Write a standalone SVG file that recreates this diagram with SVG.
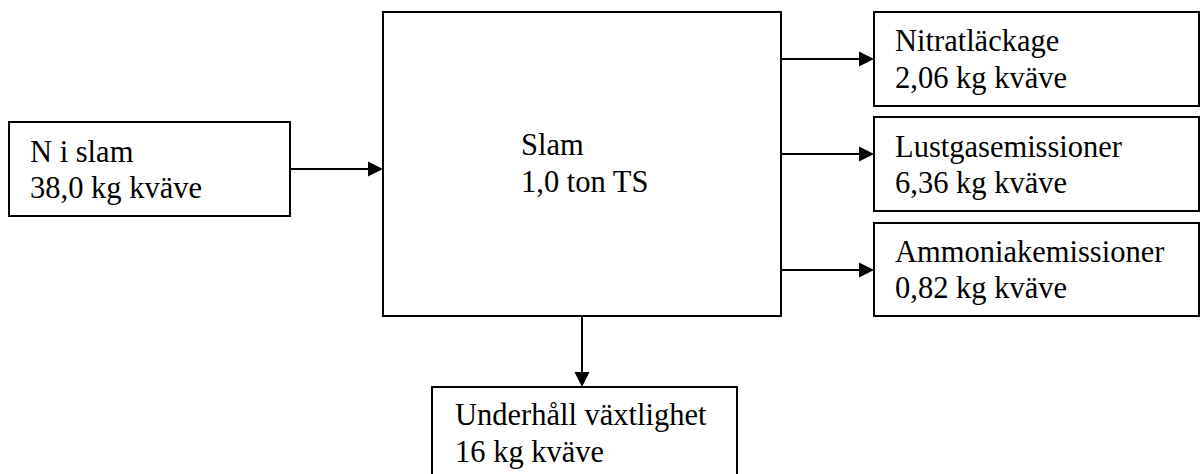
<svg xmlns="http://www.w3.org/2000/svg" width="1201" height="474" viewBox="0 0 1201 474">
<style>
.box{fill:#fff;stroke:#000;stroke-width:2}
.ln{stroke:#000;stroke-width:2;fill:none}
.hd{fill:#000}
text{font-family:'Liberation Serif','Times New Roman',Tinos,'DejaVu Serif',serif;font-size:30.5px;fill:#000}
</style>
<rect width="1201" height="474" fill="#fff"/>
<g id="n-slam-in">
<rect class="box" x="9" y="122" width="281" height="94"/>
<text x="30" y="162" font-family="Liberation Serif">N i slam</text>
<text x="30" y="198" font-family="Liberation Serif">38,0 kg kväve</text>
</g>
<g id="slam">
<rect class="box" x="383" y="12" width="398" height="304"/>
<text x="521" y="155" font-family="Liberation Serif">Slam</text>
<text x="521" y="192" font-family="Liberation Serif">1,0 ton TS</text>
</g>
<g id="nitrat">
<rect class="box" x="874" y="12" width="325" height="94"/>
<text x="895" y="51" font-family="Liberation Serif">Nitratläckage</text>
<text x="895" y="88" font-family="Liberation Serif">2,06 kg kväve</text>
</g>
<g id="lustgas">
<rect class="box" x="874" y="117" width="325" height="94"/>
<text x="895" y="157" font-family="Liberation Serif">Lustgasemissioner</text>
<text x="895" y="193" font-family="Liberation Serif">6,36 kg kväve</text>
</g>
<g id="ammoniak">
<rect class="box" x="874" y="223" width="325" height="93"/>
<text x="895" y="262" font-family="Liberation Serif">Ammoniakemissioner</text>
<text x="895" y="298" font-family="Liberation Serif">0,82 kg kväve</text>
</g>
<g id="underhall">
<rect class="box" x="432" y="387" width="305" height="100"/>
<text x="455" y="425" font-family="Liberation Serif">Underhåll växtlighet</text>
<text x="455" y="462" font-family="Liberation Serif">16 kg kväve</text>
</g>
<g id="connectors">
<line class="ln" x1="290" y1="169" x2="369" y2="169"/>
<polygon class="hd" points="368,161.5 383,169 368,176.5"/>
<line class="ln" x1="781" y1="59" x2="860" y2="59"/>
<polygon class="hd" points="859,51.5 874,59 859,66.5"/>
<line class="ln" x1="781" y1="154" x2="860" y2="154"/>
<polygon class="hd" points="859,146.5 874,154 859,161.5"/>
<line class="ln" x1="781" y1="270" x2="860" y2="270"/>
<polygon class="hd" points="859,262.5 874,270 859,277.5"/>
<line class="ln" x1="582" y1="316" x2="582" y2="373"/>
<polygon class="hd" points="574.5,372 582,387 589.5,372"/>
</g>
</svg>
